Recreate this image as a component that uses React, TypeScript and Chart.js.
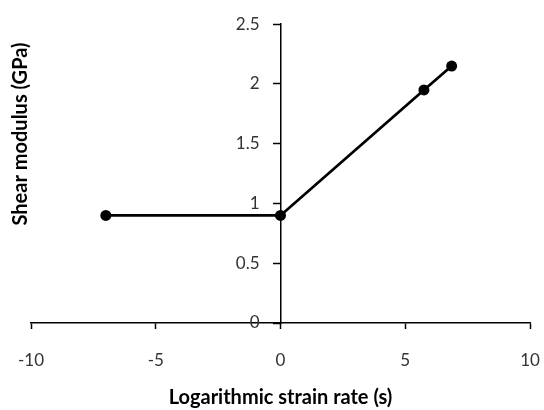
import { useEffect, useRef } from "react";
import { Chart, registerables } from "chart.js";

Chart.register(...registerables);

const strainRate = [-7, 0, 5.75, 6.86];
const shearModulus = [0.9, 0.9, 1.95, 2.15];
const xTickValues = [-10, -5, 0, 5, 10];
const yTickValues = [0, 0.5, 1, 1.5, 2, 2.5];
const xTitle = "Logarithmic strain rate (s)";
const yTitle = "Shear modulus (GPa)";

const FONT = "Lato, 'Open Sans', sans-serif";
const Y_TICK_LEN = 7;
const Y_TICK_PAD = 14;

// Y axis title drawn at the far left of the canvas (the y axis itself sits at x = 0)
const yTitlePlugin = {
  id: "yTitleLeft",
  afterDraw(chart: any) {
    const ctx = chart.ctx;
    ctx.save();
    ctx.translate(21, 134);
    ctx.rotate(-Math.PI / 2);
    ctx.font = `bold 20px ${FONT}`;
    ctx.fillStyle = "#000";
    ctx.textAlign = "center";
    ctx.textBaseline = "middle";
    ctx.fillText(yTitle, 0, 0);
    ctx.restore();
  },
};

// Keep the y tick labels to the left of the centred axis, clear of the tick marks
const yLabelPlacePlugin = {
  id: "yLabelPlace",
  beforeDraw(chart: any) {
    const ys = chart.scales.y;
    const xs = chart.scales.x;
    if (!ys || !xs || typeof ys.getLabelItems !== "function") return;
    const axisX = xs.getPixelForValue(0);
    ys.getLabelItems().forEach((it: any) => {
      it.options.translation[0] = axisX - (Y_TICK_LEN + Y_TICK_PAD);
      it.options.textAlign = "right";
    });
  },
};

export default function App() {
  const ref = useRef<HTMLCanvasElement | null>(null);

  useEffect(() => {
    document.body.style.margin = "0";
    if (!ref.current) return;
    const chart = new Chart(ref.current, {
      type: "scatter",
      data: {
        datasets: [
          {
            data: strainRate.map((x, i) => ({ x, y: shearModulus[i] })),
            showLine: true,
            borderColor: "#000",
            borderWidth: 2.8,
            backgroundColor: "#000",
            pointRadius: 5.5,
            pointBorderWidth: 0,
            pointHoverRadius: 5.5,
          },
        ],
      },
      options: {
        animation: false,
        responsive: false,
        layout: { padding: { left: 31, right: 14, top: 23, bottom: 0 } },
        plugins: { legend: { display: false }, tooltip: { enabled: false } },
        scales: {
          x: {
            type: "linear",
            position: "bottom",
            min: -10,
            max: 10,
            afterBuildTicks: (s: any) => {
              s.ticks = xTickValues.map((v) => ({ value: v }));
            },
            afterFit: (s: any) => {
              s.height = 87;
              s.paddingLeft = 0;
              s.paddingRight = 0;
            },
            grid: {
              drawOnChartArea: false,
              drawTicks: true,
              tickLength: 6,
              tickWidth: 1.5,
              tickColor: "#000",
            },
            border: { display: true, color: "#000", width: 1.5 },
            ticks: {
              color: "#333",
              font: { family: FONT, size: 17 },
              padding: 21,
              maxRotation: 0,
              callback: (v: any) => String(v),
            },
            title: {
              display: true,
              text: xTitle,
              color: "#000",
              font: { family: FONT, size: 20, weight: "bold" },
              padding: { top: 0, bottom: 0 },
            },
          },
          y: {
            type: "linear",
            position: { x: 0 } as any,
            min: 0,
            max: 2.5,
            afterBuildTicks: (s: any) => {
              s.ticks = yTickValues.map((v) => ({ value: v }));
            },
            grid: {
              drawOnChartArea: false,
              drawTicks: true,
              tickLength: Y_TICK_LEN,
              tickWidth: 1.5,
              tickColor: "#000",
            },
            border: { display: true, color: "#000", width: 1.5 },
            ticks: {
              color: "#333",
              font: { family: FONT, size: 17 },
              padding: Y_TICK_PAD,
              callback: (v: any) => String(v),
            },
          },
        },
      },
      plugins: [yLabelPlacePlugin, yTitlePlugin],
    });
    return () => chart.destroy();
  }, []);

  return (
    <div style={{ width: 544, height: 410 }}>
      <canvas ref={ref} width={544} height={410} />
    </div>
  );
}
